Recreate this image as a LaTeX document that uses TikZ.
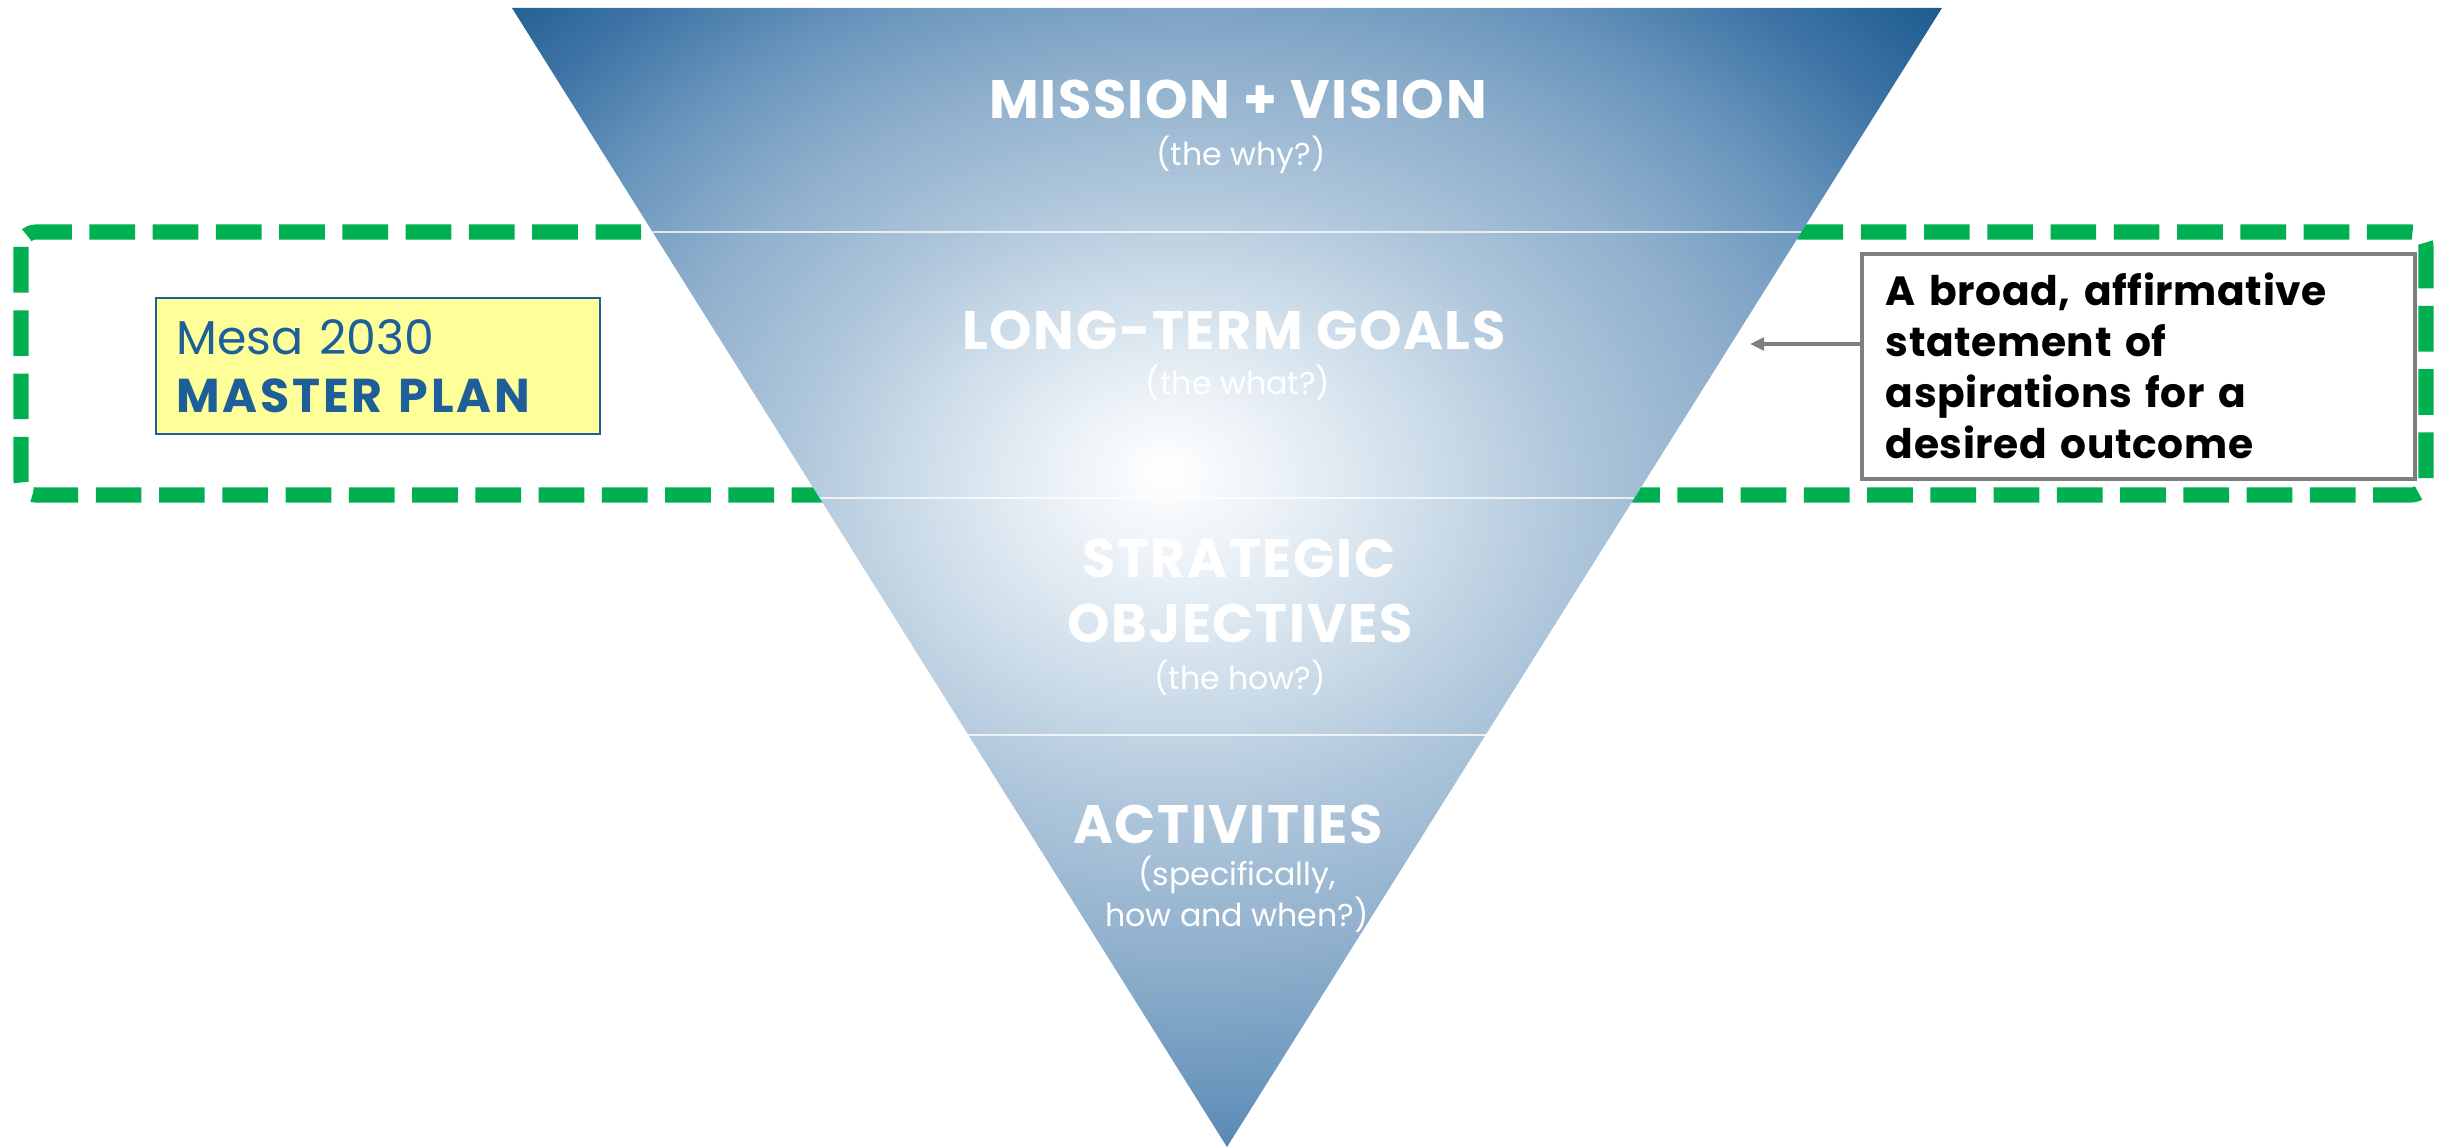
\documentclass[tikz,border=0pt]{standalone}
\usepackage{fontspec}
\setmainfont{Poppins}
\usetikzlibrary{calc,positioning,arrows.meta}

\definecolor{planblue}{HTML}{1F5F99}
\definecolor{dashgreen}{HTML}{00B050}
\definecolor{notegray}{HTML}{7F7F7F}
\definecolor{planyellow}{HTML}{FFFF99}
\definecolor{fun0}{HTML}{FFFFFF}
\definecolor{fun1}{HTML}{F0F5F9}
\definecolor{fun2}{HTML}{D3E1EC}
\definecolor{fun3}{HTML}{ADC5DA}
\definecolor{fun4}{HTML}{8DAECB}
\definecolor{fun5}{HTML}{6A96BD}
\definecolor{fun6}{HTML}{3F75A6}
\definecolor{fun7}{HTML}{155589}

% radial light in the middle of the funnel
\pgfdeclareradialshading{funnel}{\pgfpoint{-2.2bp}{4.7bp}}{%
  color(0bp)=(fun0); color(3bp)=(fun1); color(8bp)=(fun2);
  color(14bp)=(fun3); color(20bp)=(fun4); color(25bp)=(fun5);
  color(30bp)=(fun6); color(36bp)=(fun7); color(50bp)=(fun7)}

\begin{document}
\begin{tikzpicture}[x=0.1mm,y=-0.1mm,
    title/.style={text=white, font=\bfseries\fontsize{15.4}{18}\selectfont\addfontfeatures{LetterSpace=3}, anchor=base},
    sub/.style={text=white, font=\fontsize{9}{11}\selectfont, anchor=base, align=center},
    divider/.style={white, opacity=0.75, line width=0.6pt}]

        \useasboundingbox (0,0) rectangle (2450,1148);

        % the green frame round the master plan level
        \draw[dashgreen, line width=4.3pt, dash pattern=on 13pt off 5pt, rounded corners=1.5mm]
              (21,232) rectangle (2426,495);

        \coordinate (tl) at (512,8);
        \coordinate (tr) at (1942,8);
        \coordinate (ap) at (1227,1147);

        \shade[shading=funnel] (tl) -- (tr) -- (ap) -- cycle;

        % level lines
        \foreach \y in {232,498,735}
            \draw[divider] ($(tl)!{(\y-8)/1139}!(ap)$) -- ($(tr)!{(\y-8)/1139}!(ap)$);

        \node[title] (mission) at (1238,119) {MISSION + VISION};
        \node[sub] (why) at (1241,166) {(the why?)};

        \node[title] (goals) at (1234,350) {LONG-TERM GOALS};
        \node[sub] (what) at (1238,394) {(the what?)};

        \node[title] (strat) at (1239,578) {STRATEGIC};
        \node[title] (object) at (1240,642) {OBJECTIVES};
        \node[sub] (how) at (1240,689) {(the how?)};

        \node[title] (activ) at (1228,843) {ACTIVITIES};
        \node[sub, anchor=north, inner sep=0pt, font=\fontsize{9}{10.3}\selectfont] (when) at (1237,855)
              {(specifically,\\how and when?)};

        % master plan label
        \node[draw=planblue, line width=0.7pt, fill=planyellow, anchor=north west,
              minimum width=44.4mm, minimum height=13.6mm, inner xsep=2mm,
              align=left, text=planblue, text width=40.4mm,
              font=\fontsize{13.5}{16.5}\selectfont] (plan) at (155,297)
              {Mesa 2030\\
               {\bfseries\addfontfeatures{LetterSpace=6}MASTER PLAN}};

        % explanation of the level
        \node[draw=notegray, line width=1pt, fill=white, anchor=north west,
              minimum width=55.3mm, minimum height=22.5mm, inner xsep=2.4mm,
              text width=50.5mm, align=left,
              font=\bfseries\fontsize{11.6}{14.5}\selectfont\addfontfeatures{LetterSpace=1.5}] (desc) at (1860,252)
              {A broad, affirmative\\statement of\\aspirations for a\\desired outcome};

        \coordinate (goalsEdge) at (1750,344);
        \draw[notegray, line width=0.9pt, -{Triangle[length=4pt,width=3.6pt]}] (desc.west |- goalsEdge) -- (goalsEdge);

\end{tikzpicture}
\end{document}
